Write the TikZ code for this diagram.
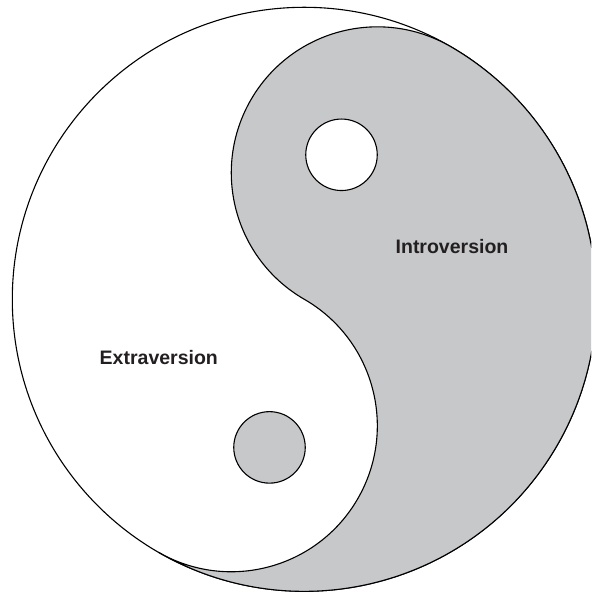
\documentclass[tikz,border=0pt]{standalone}
\usepackage{fontspec}
\setmainfont{Liberation Sans}
\definecolor{yygrey}{HTML}{C7C8CA}
\definecolor{yytext}{HTML}{231F20}
\tikzset{
  outline/.style={draw=black, line width=1.1pt},
  label/.style={text=yytext, font=\bfseries\fontsize{19.5}{22}\selectfont, inner sep=0pt, anchor=center},
  dot/.style={circle, outline, minimum size=71.5pt, inner sep=0pt}
}
\begin{document}
\begin{tikzpicture}[x=1pt,y=1pt]
\useasboundingbox (0,0) rectangle (591,593);
\clip (0,0) rectangle (591,593);
\fill[white] (0,0) rectangle (591,593);
\coordinate (O) at (304.3,293.7);
% outer circle
\draw[outline, fill=white] (O) circle[radius=292];
% grey half with lobes
\begin{scope}[shift={(O)}, rotate=-30]
  \path[outline, fill=yygrey] (0,292) arc[start angle=90, end angle=-90, radius=292]
     arc[start angle=-90, end angle=90, radius=146]
     arc[start angle=-90, end angle=-270, radius=146] -- cycle;
\end{scope}
% dots
\node[dot, fill=white] (wdot) at (341.5,438.2) {};
\node[dot, fill=yygrey] (gdot) at (269.5,145.6) {};
% labels
\node[label] (intro) at (452,346) {Introversion};
\node[label] (extra) at (158.8,235.2) {Extraversion};
\end{tikzpicture}
\end{document}
